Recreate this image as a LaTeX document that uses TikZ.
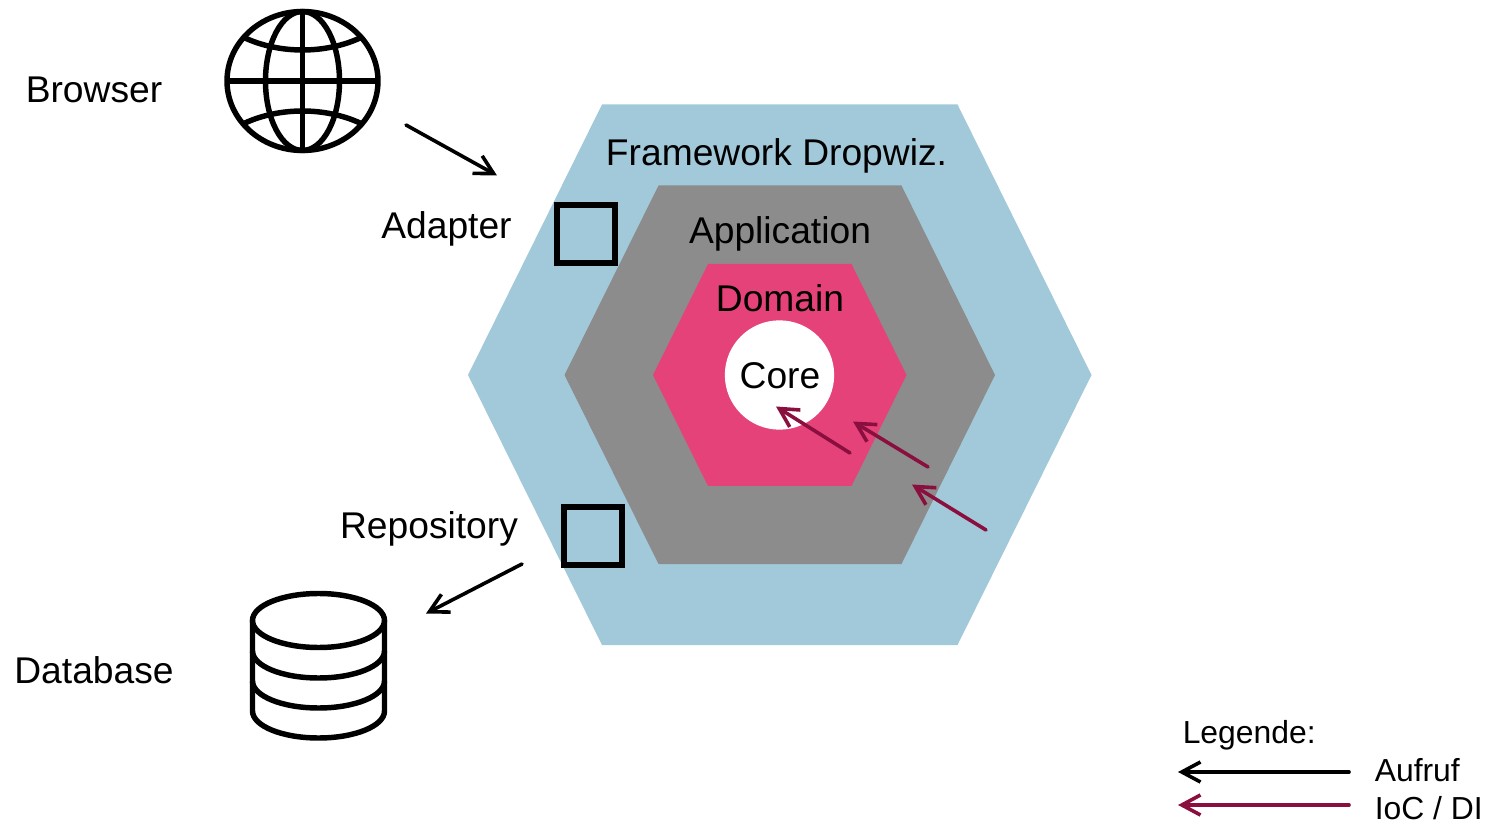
\documentclass[tikz,border=0pt]{standalone}
\usepackage{fontspec}
\setmainfont{Liberation Sans}
\usetikzlibrary{arrows.meta,positioning}
\definecolor{hexblue}{RGB}{162,201,217}
\definecolor{hexgray}{RGB}{140,140,140}
\definecolor{hexpink}{RGB}{230,66,122}
\definecolor{iocred}{RGB}{138,15,63}

\begin{document}
\begin{tikzpicture}[x=0.75pt, y=-0.75pt,
  lbl/.style={inner sep=0pt, anchor=base, font=\fontsize{27.9}{30}\selectfont, text=black},
  leg/.style={inner sep=0pt, anchor=base west, font=\fontsize{23.9}{26}\selectfont, text=black},
  portbox/.style={draw=black, line width=3.8pt, minimum size=43.5pt, inner sep=0pt},
  icon/.style={line width=4.1pt, black},
  arr/.style={-{Straight Barb[length=14pt, width=15pt, line width=2.7pt]}, line width=2.7pt, line cap=round, black},
  ioc/.style={arr, iocred}]
\useasboundingbox (0,0) rectangle (1493,823);
% Hexagons
\fill[hexblue] (468,375) -- (602,104.5) -- (957.5,104.5) -- (1091.5,375) -- (957.5,645) -- (602,645) -- cycle;
\fill[hexgray] (564.5,375) -- (658.5,185.5) -- (901.5,185.5) -- (995,375) -- (901.5,564) -- (658.5,564) -- cycle;
\fill[hexpink] (653,375) -- (708,264) -- (851.5,264) -- (906.5,375) -- (851.5,486) -- (708,486) -- cycle;
\node[circle, fill=white, minimum size=82pt, inner sep=0pt] (core) at (779.5,375) {};
% Ports
\node[portbox] (adapter) at (586,234) {};
\node[portbox] (repo) at (593,536) {};
% Globe
\draw[icon] (302.5,81) ellipse [x radius=75.5, y radius=69.5];
\draw[icon] (302.5,81) ellipse [x radius=37, y radius=69.5];
\draw[icon] (302.5,11.5) -- (302.5,150.5);
\draw[icon] (227,81) -- (378,81);
\draw[icon] (245,38) .. controls (280,54) and (325,54) .. (360,38);
\draw[icon] (245,123) .. controls (280,107) and (325,107) .. (360,123);
% Database
\draw[icon] (318.5,620.5) ellipse [x radius=66, y radius=27];
\draw[icon] (252.5,620.5) -- (252.5,711) arc [start angle=180, end angle=0, x radius=66, y radius=27] -- (384.5,620.5);
\draw[icon] (252.5,651) arc [start angle=180, end angle=0, x radius=66, y radius=27];
\draw[icon] (252.5,681) arc [start angle=180, end angle=0, x radius=66, y radius=27];
% Labels
\node[lbl] (browser) at (94,103) {Browser};
\node[lbl] (adaptertxt) at (446.5,239) {Adapter};
\node[lbl] (framework) at (776.5,166) {Framework Dropwiz.};
\node[lbl] (application) at (780,244) {Application};
\node[lbl] (domain) at (780,312) {Domain};
\node[lbl] (coretxt) at (780,388.5) {Core};
\node[lbl] (repotxt) at (429,538) {Repository};
\node[lbl] (database) at (94,683) {Database};
% Legend
\node[leg] (legende) at (1182.5,743) {Legende:};
\node[leg] (aufruf) at (1374.5,781) {Aufruf};
\node[leg] (iocdi) at (1374.5,819) {IoC / DI};
% Arrow ends
\coordinate (a1) at (406,125);
\coordinate (a2) at (497,175.5);
\coordinate (b1) at (522,564);
\coordinate (b2) at (426,613.5);
\coordinate (c1) at (850,453);
\coordinate (c2) at (776,406.5);
\coordinate (d1) at (928,467);
\coordinate (d2) at (853,421.5);
\coordinate (e1) at (986,530);
\coordinate (e2) at (912,484.5);
\coordinate (f1) at (1349,772);
\coordinate (f2) at (1178,772);
\coordinate (g1) at (1349,805);
\coordinate (g2) at (1178,805);
% Arrows
\draw[arr] (a1) -- (a2);
\draw[arr] (b1) -- (b2);
\draw[ioc] (c1) -- (c2);
\draw[ioc] (d1) -- (d2);
\draw[ioc] (e1) -- (e2);
\draw[arr] (f1) -- (f2);
\draw[ioc] (g1) -- (g2);
\end{tikzpicture}
\end{document}
